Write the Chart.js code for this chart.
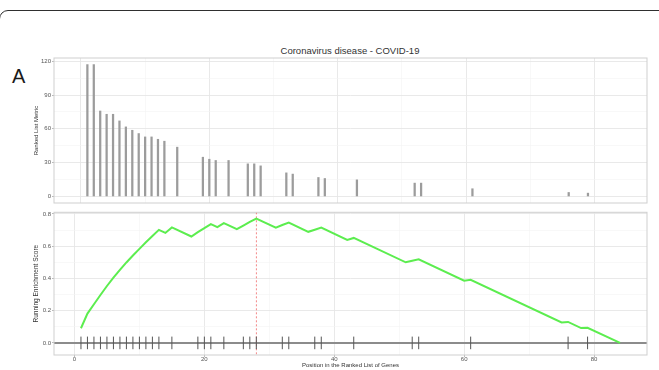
<!DOCTYPE html>
<html>
<head>
<meta charset="utf-8">
<script src="https://cdn.jsdelivr.net/npm/chart.js@4.4.1/dist/chart.umd.min.js"></script>
<style>
  html, body { margin: 0; padding: 0; background: #fff; }
  body { width: 659px; height: 370px; position: relative; overflow: hidden; font-family: "Liberation Sans", Arial, sans-serif; }
  .card { position: absolute; left: -1px; top: 10px; width: 700px; height: 420px; border: 1.3px solid #2f2f2f; border-radius: 9px; }
  .panel-tag { position: absolute; left: 12px; top: 66px; font-size: 20px; line-height: 20px; color: #1a1a1a; }
  .main-title { position: absolute; left: 0; width: 700px; top: 44px; text-align: center; font-size: 9.5px; line-height: 13px; color: #333; }
  canvas { position: absolute; left: 0; }
  #metricChart { top: 0; }
  #scoreChart { top: 205px; }
</style>
</head>
<body>
<div class="card"></div>
<div class="panel-tag">A</div>
<div class="main-title">Coronavirus disease - COVID-19</div>
<canvas id="metricChart" width="659" height="210"></canvas>
<canvas id="scoreChart" width="659" height="165"></canvas>
<script>
// Positions of the gene-set members in the ranked list
const hitPositions = [1, 2, 3, 4, 5, 6, 7, 8, 9, 10, 11, 12, 13, 15, 19, 20, 21, 23, 26, 27, 28, 32, 33, 37, 38, 43, 52, 53, 61, 76, 79];
// Ranked list metric of each member
const rankedMetric = [117, 117, 75.8, 72.9, 72.9, 67, 61.7, 58.7, 55.8, 52.8, 52.8, 50.7, 49, 43.7, 34.8, 33, 31.9, 31.9, 28.9, 28.9, 27.1, 20.9, 19.8, 16.8, 15.9, 14.7, 11.8, 11.8, 6.8, 3.5, 2.9];
// Running enrichment score at the corners of its path
const scorePositions = [1, 2, 3, 4, 5, 6, 7, 8, 9, 10, 11, 12, 13, 14, 15, 18, 19, 20, 21, 22, 23, 25, 26, 27, 28, 31, 32, 33, 36, 37, 38, 42, 43, 51, 52, 53, 60, 61, 75, 76, 78, 79, 84];
const runningScore = [0.091, 0.182, 0.240, 0.297, 0.353, 0.405, 0.453, 0.499, 0.542, 0.583, 0.624, 0.663, 0.701, 0.682, 0.716, 0.660, 0.687, 0.712, 0.737, 0.718, 0.743, 0.705, 0.728, 0.750, 0.771, 0.714, 0.731, 0.746, 0.689, 0.702, 0.715, 0.639, 0.651, 0.500, 0.509, 0.518, 0.386, 0.391, 0.127, 0.130, 0.092, 0.094, 0.000];
// Axis tick labels
const metricTicks = [0, 30, 60, 90, 120];
const scoreTicks = [0, 0.2, 0.4, 0.6, 0.8];
const positionTicks = [0, 20, 40, 60, 80];

const FONT = '"Liberation Sans", Arial, sans-serif';
const GRID_MAJOR = '#e6e6e6';
const GRID_MINOR = '#f3f3f3';

// major ticks plus a minor grid line halfway between each pair
function tickSet(major) {
  const step = major[1] - major[0];
  const out = [];
  major.forEach((v, i) => {
    out.push({ value: v });
    if (i < major.length - 1) out.push({ value: v + step / 2, minor: true });
  });
  return out;
}

function gridOpts(showTicks) {
  return {
    color: c => (c.tick && c.tick.minor ? GRID_MINOR : GRID_MAJOR),
    lineWidth: c => (c.tick && c.tick.minor ? 0.6 : 0.9),
    drawTicks: showTicks,
    tickLength: 2,
    tickWidth: 0.8,
    tickColor: c => (c.tick && c.tick.minor ? 'rgba(0,0,0,0)' : '#a8a8a8'),
    offset: false
  };
}

const tickFont = { family: FONT, size: 6, lineHeight: 1 };

// light frame round each panel
const panelFrame = {
  id: 'panelFrame',
  afterDraw(chart) {
    const { ctx, chartArea: a } = chart;
    ctx.save();
    ctx.strokeStyle = '#cfcfcf';
    ctx.lineWidth = 1;
    ctx.strokeRect(a.left, a.top, a.right - a.left, a.bottom - a.top);
    ctx.restore();
  }
};

// zero baseline and dashed marker at the peak of the running score
const scoreGuides = {
  id: 'scoreGuides',
  beforeDatasetsDraw(chart) {
    const { ctx, chartArea: a, scales: { x, y } } = chart;
    const y0 = y.getPixelForValue(0);
    ctx.save();
    ctx.strokeStyle = '#8c8c8c';
    ctx.lineWidth = 2;
    ctx.beginPath();
    ctx.moveTo(a.left, y0);
    ctx.lineTo(a.right, y0);
    ctx.stroke();
    let peak = 0;
    runningScore.forEach((v, i) => { if (v > runningScore[peak]) peak = i; });
    const xp = x.getPixelForValue(scorePositions[peak]);
    ctx.strokeStyle = '#f06a6a';
    ctx.lineWidth = 0.8;
    ctx.setLineDash([2, 2]);
    ctx.beginPath();
    ctx.moveTo(xp, a.top);
    ctx.lineTo(xp, a.bottom);
    ctx.stroke();
    ctx.restore();
  }
};

new Chart(document.getElementById('metricChart'), {
  type: 'bar',
  data: {
    datasets: [{
      data: hitPositions.map((p, i) => ({ x: p, y: rankedMetric[i] })),
      backgroundColor: '#9c9c9c',
      borderWidth: 0,
      barThickness: 1.6
    }]
  },
  options: {
    responsive: false,
    animation: false,
    devicePixelRatio: 1,
    layout: { padding: { left: 0, right: 12, top: 58, bottom: 7 } },
    plugins: { legend: { display: false }, tooltip: { enabled: false } },
    scales: {
      x: {
        type: 'linear', min: -4.2, max: 88.2, offset: false,
        afterBuildTicks: s => { s.ticks = tickSet(positionTicks); },
        grid: gridOpts(false),
        border: { display: false },
        ticks: { display: false },
        afterFit: s => { s.height = 0; }
      },
      y: {
        min: -5.85, max: 122.85,
        afterBuildTicks: s => { s.ticks = tickSet(metricTicks); },
        grid: gridOpts(true),
        border: { display: false },
        ticks: {
          autoSkip: false, padding: 1, color: '#555', font: tickFont,
          callback: (v, i, t) => (t[i].minor ? '' : String(v))
        },
        title: {
          display: true, text: 'Ranked List Metric', color: '#333',
          font: { family: FONT, size: 6 }, padding: { top: 33, bottom: 0 }
        },
        afterFit: s => { s.width = 54; }
      }
    }
  },
  plugins: [panelFrame]
});

new Chart(document.getElementById('scoreChart'), {
  type: 'line',
  data: {
    datasets: [
      {
        data: scorePositions.map((p, i) => ({ x: p, y: runningScore[i] })),
        borderColor: '#5ced4f',
        borderWidth: 2,
        pointRadius: 0,
        tension: 0,
        order: 0
      },
      {
        type: 'scatter',
        data: hitPositions.map(p => ({ x: p, y: 0 })),
        pointStyle: 'line',
        rotation: 90,
        pointRadius: 6.3,
        pointHoverRadius: 6.3,
        borderColor: '#555',
        borderWidth: 1,
        order: 1
      }
    ]
  },
  options: {
    responsive: false,
    animation: false,
    devicePixelRatio: 1,
    layout: { padding: { left: 0, right: 12, top: 5, bottom: 0 } },
    plugins: { legend: { display: false }, tooltip: { enabled: false } },
    scales: {
      x: {
        type: 'linear', min: -3.15, max: 88.15,
        afterBuildTicks: s => { s.ticks = tickSet(positionTicks); },
        grid: gridOpts(true),
        border: { display: false },
        ticks: {
          autoSkip: false, maxRotation: 0, padding: -1, color: '#555', font: tickFont,
          callback: (v, i, t) => (t[i].minor ? '' : String(v))
        },
        title: {
          display: true, text: 'Position in the Ranked List of Genes', color: '#333',
          font: { family: FONT, size: 6, lineHeight: 1.2 }, padding: { top: 0, bottom: 1 }
        },
        afterFit: s => { s.height = 15; }
      },
      y: {
        type: 'linear', min: -0.075, max: 0.81,
        afterBuildTicks: s => { s.ticks = tickSet(scoreTicks); },
        grid: gridOpts(true),
        border: { display: false },
        ticks: {
          autoSkip: false, padding: 1, color: '#555', font: tickFont,
          callback: (v, i, t) => (t[i].minor ? '' : v.toFixed(1))
        },
        title: {
          display: true, text: 'Running Enrichment Score', color: '#333',
          font: { family: FONT, size: 6.5 }, padding: { top: 32.6, bottom: 0 }
        },
        afterFit: s => { s.width = 54; }
      }
    }
  },
  plugins: [scoreGuides, panelFrame]
});
</script>
</body>
</html>
